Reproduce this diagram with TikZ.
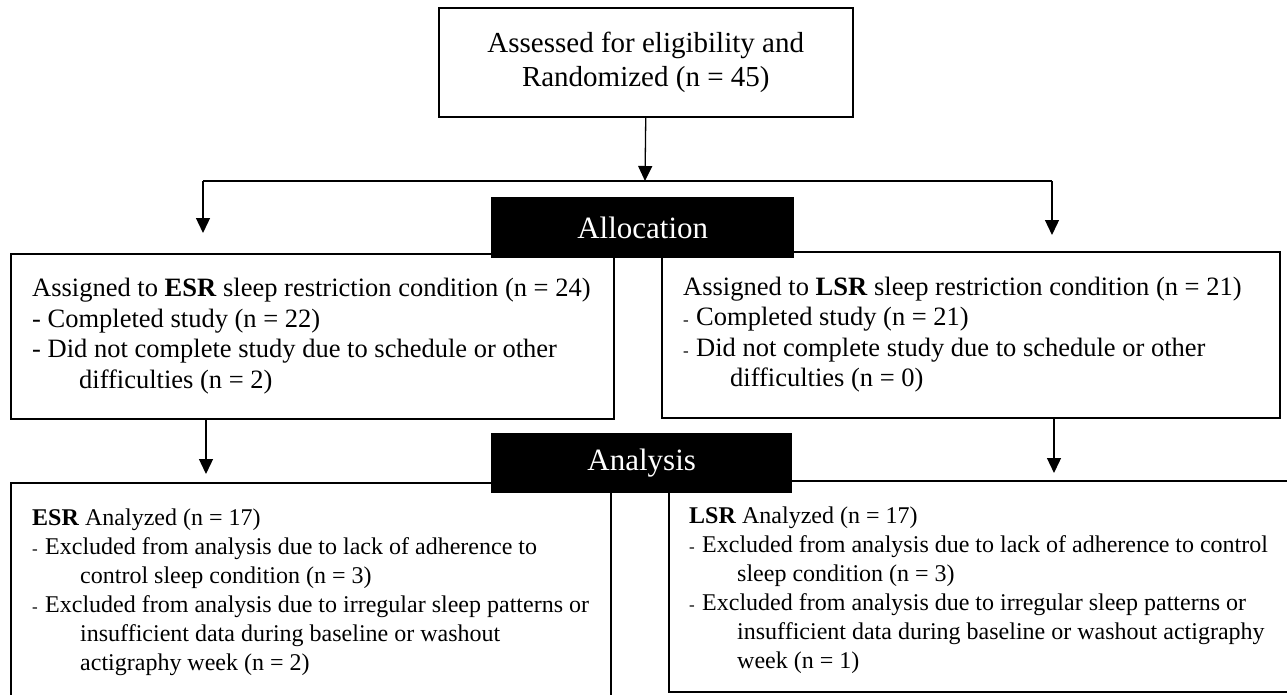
\documentclass[tikz,border=0pt]{standalone}
\usepackage{fontspec}
\setmainfont{Liberation Serif}
\usetikzlibrary{arrows.meta,calc}
\newcommand\sdash{\makebox[13pt][l]{\fontsize{17}{17}\selectfont -}}
\begin{document}
\begin{tikzpicture}[x=1pt,y=-1pt,
  box/.style={draw, line width=1.5pt, rectangle, anchor=north west, inner sep=0pt},
  hdr/.style={fill=black, rectangle, anchor=north west, inner sep=0pt, text=white, font=\fontsize{31}{35}\selectfont},
  body/.style={anchor=west, align=left, inner sep=0pt, font=\fontsize{26.5}{30.5}\selectfont},
  abody/.style={anchor=west, align=left, inner sep=0pt, font=\fontsize{24}{29}\selectfont},
  conn/.style={line width=1.3pt},
  arr/.style={line width=1.3pt, -{Triangle[length=15pt,width=14pt]}}]
\useasboundingbox (0,0) rectangle (1287,694);
\clip (0,0) rectangle (1287,694);
\fill[white] (0,0) rectangle (1287,694);

\node[box, minimum width=414pt, minimum height=109pt] (top) at (438,7) {};
\node[align=center, inner sep=0pt, font=\fontsize{29}{34}\selectfont] (toptxt) at ($(top.center)+(0,0)$) {Assessed for eligibility and\\Randomized (n = 45)};

\coordinate (jm) at (645,181);
\coordinate (jl) at (203,181);
\coordinate (jr) at (1052,181);
\coordinate (tl) at (203,233);
\coordinate (tr) at (1052,235);
\coordinate (bl) at (206,474);
\coordinate (br) at (1054,473);
\coordinate (thA) at (563,181);
\coordinate (thB) at (697,181);

\node[box, minimum width=603pt, minimum height=165pt] (esr) at (10,253) {};
\node[box, minimum width=618pt, minimum height=166pt] (lsr) at (661,251) {};
\node[box, minimum width=600pt, minimum height=220pt] (esra) at (10,482) {};
\node[box, minimum width=630pt, minimum height=211pt] (lsra) at (668,480) {};

\draw[arr] (top.south) -- (jm);
\draw[conn] (jl) -- (jr);
\draw[line width=2pt] (thA) -- (thB);
\draw[arr] (jl) -- (tl);
\draw[arr] (jr) -- (tr);
\draw[arr] (esr.south -| bl) -- (bl);
\draw[arr] (lsr.south -| br) -- (br);

\node[hdr, minimum width=303pt, minimum height=61pt] (alloc) at (491,197) {Allocation};
\node[hdr, minimum width=301pt, minimum height=60pt] (anal) at (491,433) {Analysis};

\node[body] (esrt) at ($(esr.west)+(22,0)$) {Assigned to \textbf{ESR} sleep restriction condition (n = 24)\\- Completed study (n = 22)\\- Did not complete study due to schedule or other\\\hspace*{47pt}difficulties (n = 2)};
\node[body] (lsrt) at ($(lsr.west)+(22,0)$) {Assigned to \textbf{LSR} sleep restriction condition (n = 21)\\\sdash Completed study (n = 21)\\\sdash Did not complete study due to schedule or other\\\hspace*{47pt}difficulties (n = 0)};
\node[abody] (esrat) at ($(esra.west)+(22,0)$) {\textbf{ESR} Analyzed (n = 17)\\\sdash Excluded from analysis due to lack of adherence to\\\hspace*{48pt}control sleep condition (n = 3)\\\sdash Excluded from analysis due to irregular sleep patterns or\\\hspace*{48pt}insufficient data during baseline or washout\\\hspace*{48pt}actigraphy week (n = 2)};
\node[abody] (lsrat) at ($(lsra.west)+(21,4)$) {\textbf{LSR} Analyzed (n = 17)\\\sdash Excluded from analysis due to lack of adherence to control\\\hspace*{48pt}sleep condition (n = 3)\\\sdash Excluded from analysis due to irregular sleep patterns or\\\hspace*{48pt}insufficient data during baseline or washout actigraphy\\\hspace*{48pt}week (n = 1)};
\end{tikzpicture}
\end{document}
